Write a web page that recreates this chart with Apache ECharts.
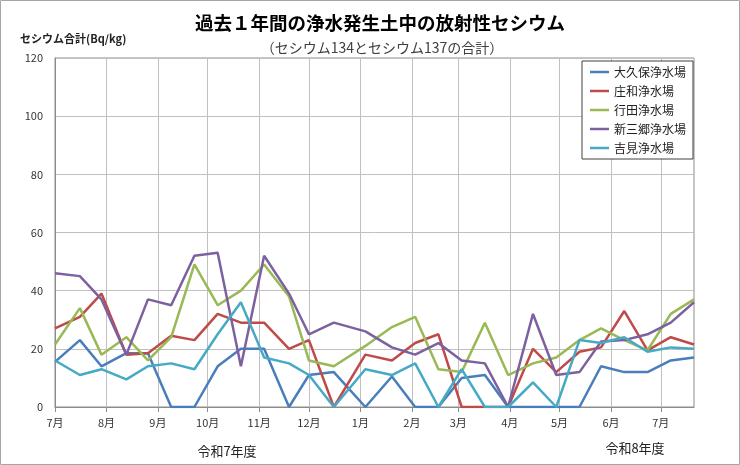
<!DOCTYPE html>
<html>
<head>
<meta charset="utf-8">
<script src="https://cdn.jsdelivr.net/npm/echarts@6/dist/echarts.min.js"></script>
<style>
  html, body { margin: 0; padding: 0; background: #fff; }
  #chart { width: 740px; height: 465px; }
</style>
</head>
<body>
<div id="chart"></div>
<script>
// 測定日（約2週間ごと）
const dates = [
  '2025-07-01', '2025-07-16', '2025-07-29', '2025-08-13', '2025-08-26',
  '2025-09-09', '2025-09-23', '2025-10-07', '2025-10-21', '2025-11-04',
  '2025-11-19', '2025-12-01', '2025-12-16', '2026-01-04', '2026-01-20',
  '2026-02-03', '2026-02-17', '2026-03-03', '2026-03-17', '2026-03-31',
  '2026-04-15', '2026-04-29', '2026-05-13', '2026-05-26', '2026-06-09',
  '2026-06-23', '2026-07-07', '2026-07-21',
];

const okubo    = [15.5, 23, 14, 18.5, 18.5, 0, 0, 14, 20, 20, 0, 11, 12, 0, 10.5, 0, 0, 10, 11, 0, 0, 0, 0, 14, 12, 12, 16, 17];
const showa    = [27, 31, 39, 18, 18.5, 24.5, 23, 32, 29, 29, 20, 23, 0, 18, 16, 22, 25, 0, 0, 0, 20, 12, 19, 20.5, 33, 19.5, 24, 21.5];
const gyoda    = [21.5, 34, 18, 24, 16, 24, 49, 35, 40, 49, 38, 16, 14, 21, 27.5, 31, 13, 12, 29, 11, 15, 17, 23, 27, 23, 19.5, 32, 37];
const shinmisato = [46, 45, 37, 18, 37, 35, 52, 53, 14, 52, 39, 25, 29, 26, 20.5, 18, 22, 16, 15, 0, 32, 11, 12, 22.5, 23, 25, 29, 36];
const yoshimi  = [16, 11, 13, 9.5, 14, 15, 13, 25, 36, 17, 15, 11, 0, 13, 11, 15, 0, 13, 0, 0, 8.5, 0, 23, 22, 24, 19, 20.5, 20];

const seriesNames = ['大久保浄水場', '庄和浄水場', '行田浄水場', '新三郷浄水場', '吉見浄水場'];
const seriesValues = [okubo, showa, gyoda, shinmisato, yoshimi];
const colors = ['#4a7ebb', '#be4b48', '#98b954', '#7d60a0', '#46aac5'];

const yTicks = { min: 0, max: 120, interval: 20 };

const FONT = '"Noto Sans CJK JP", "Noto Sans", sans-serif';

// 日付軸の代わりに日単位のカテゴリを作る（月の長さで目盛り間隔が変わるように）
function buildDays(from, to) {
  const out = [];
  let t = Date.parse(from + 'T00:00:00Z');
  const end = Date.parse(to + 'T00:00:00Z');
  while (t <= end) {
    out.push(new Date(t).toISOString().slice(0, 10));
    t += 86400000;
  }
  return out;
}

const days = buildDays(dates[0], dates[dates.length - 1]);
const isMonthStart = (i, v) => v.slice(8) === '01';

const chart = echarts.init(document.getElementById('chart'));

chart.setOption({
  animation: false,
  backgroundColor: '#fff',
  textStyle: { fontFamily: FONT },
  title: [
    {
      text: '過去１年間の浄水発生土中の放射性セシウム',
      left: 375, top: 9, textAlign: 'center',
      textStyle: { fontSize: 18.5, fontWeight: 'bold', color: '#000', fontFamily: FONT },
    },
    {
      text: '（セシウム134とセシウム137の合計）',
      left: 377, top: 36, textAlign: 'center',
      textStyle: { fontSize: 14, fontWeight: 'normal', color: '#404040', fontFamily: FONT },
    },
    {
      text: 'セシウム合計(Bq/kg)',
      left: 15, top: 28,
      textStyle: { fontSize: 11, fontWeight: 'bold', color: '#222', fontFamily: FONT },
    },
  ],
  graphic: [
    { type: 'rect', shape: { x: 0.5, y: 0.5, width: 739, height: 464 }, style: { fill: 'none', stroke: '#a6a6a6', lineWidth: 1 }, silent: true },
    { type: 'text', x: 227, y: 451, style: { text: '令和7年度', fontSize: 13, fontFamily: FONT, fill: '#222', align: 'center', verticalAlign: 'middle' } },
    { type: 'text', x: 635, y: 448, style: { text: '令和8年度', fontSize: 13, fontFamily: FONT, fill: '#222', align: 'center', verticalAlign: 'middle' } },
  ],
  legend: {
    orient: 'vertical',
    left: 582, top: 61,
    padding: [5, 7, 5, 8],
    icon: 'path://M0,0H19V2.5H0Z',
    itemWidth: 19, itemHeight: 12, itemGap: 7,
    backgroundColor: '#fff',
    borderColor: '#404040', borderWidth: 1,
    textStyle: { fontSize: 12, color: '#222', fontFamily: FONT },
    data: seriesNames,
  },
  grid: {
    left: 55, right: 46, top: 58, bottom: 58,
    show: true, borderColor: '#8c8c8c', borderWidth: 1,
  },
  xAxis: {
    type: 'category',
    data: days,
    boundaryGap: false,
    axisLine: { lineStyle: { color: '#8c8c8c' } },
    axisTick: { interval: isMonthStart, length: 5, lineStyle: { color: '#8c8c8c' } },
    axisLabel: {
      interval: isMonthStart,
      margin: 10,
      fontSize: 11,
      color: '#333',
      fontFamily: FONT,
      formatter: v => Number(v.slice(5, 7)) + '月',
    },
    splitLine: { show: true, interval: isMonthStart, lineStyle: { color: '#c0c0c0' } },
  },
  yAxis: {
    type: 'value',
    min: yTicks.min, max: yTicks.max, interval: yTicks.interval,
    axisLine: { show: true, lineStyle: { color: '#8c8c8c' } },
    axisTick: { show: false },
    axisLabel: { margin: 12, fontSize: 11, color: '#333', fontFamily: FONT },
    splitLine: { lineStyle: { color: '#c0c0c0' } },
  },
  series: seriesValues.map((vals, k) => ({
    name: seriesNames[k],
    type: 'line',
    symbol: 'none',
    data: dates.map((d, i) => [d, vals[i]]),
    lineStyle: { width: 2.5, color: colors[k] },
    itemStyle: { color: colors[k] },
  })),
});
</script>
</body>
</html>
